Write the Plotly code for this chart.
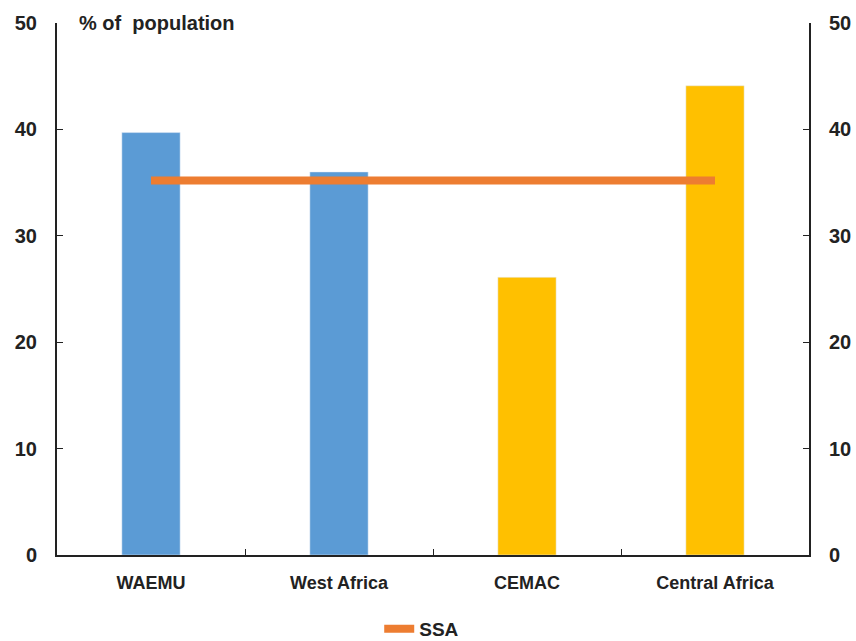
import plotly.graph_objects as go

# Data
regions = ["WAEMU", "West Africa", "CEMAC", "Central Africa"]
share = [39.7, 36.0, 26.1, 44.1]
bar_colors = ["#5B9BD5", "#5B9BD5", "#FFC000", "#FFC000"]
ssa_avg = [35.2, 35.2, 35.2, 35.2]
y_ticks = [0, 10, 20, 30, 40, 50]

font_family = "Liberation Sans, Arial, sans-serif"

fig = go.Figure()
fig.add_trace(go.Bar(
    x=regions, y=share, marker_color=bar_colors, width=0.31,
    showlegend=False,
))
fig.add_trace(go.Scatter(
    x=regions, y=ssa_avg, mode="lines", name="SSA",
    line=dict(color="#ED7D31", width=8), yaxis="y2",
))

axis_common = dict(
    range=[0, 50], tickvals=y_ticks, showgrid=False, zeroline=False,
    showline=True, linecolor="#222", linewidth=2,
    ticks="inside", ticklen=6, tickcolor="#222", ticklabelstandoff=14,
    tickfont=dict(family=font_family, size=20, color="#222", weight="bold"),
)

fig.update_layout(
    width=856, height=641,
    margin=dict(l=57, r=47, t=23, b=86, autoexpand=False),
    plot_bgcolor="white", paper_bgcolor="white",
    font=dict(family=font_family, color="#222"),
    xaxis=dict(
        showline=True, linecolor="#222", linewidth=2,
        ticks="inside", tickson="boundaries", ticklen=6, tickcolor="#222",
        showgrid=False, ticklabelstandoff=10,
        tickfont=dict(family=font_family, size=18, color="#222", weight="bold"),
    ),
    yaxis=dict(**axis_common, side="left"),
    yaxis2=dict(**axis_common, side="right", overlaying="y"),
    legend=dict(
        orientation="h", x=0.485, xanchor="center", y=-0.139, yanchor="middle",
        font=dict(family=font_family, size=19, color="#222", weight="bold"),
        itemwidth=30,
    ),
    annotations=[dict(
        text="% of  population", xref="paper", yref="paper",
        x=0.027, y=1.0, xanchor="left", yanchor="middle", showarrow=False,
        font=dict(family=font_family, size=20, color="#222", weight="bold"),
    )],
)

fig.write_html("out.html")
